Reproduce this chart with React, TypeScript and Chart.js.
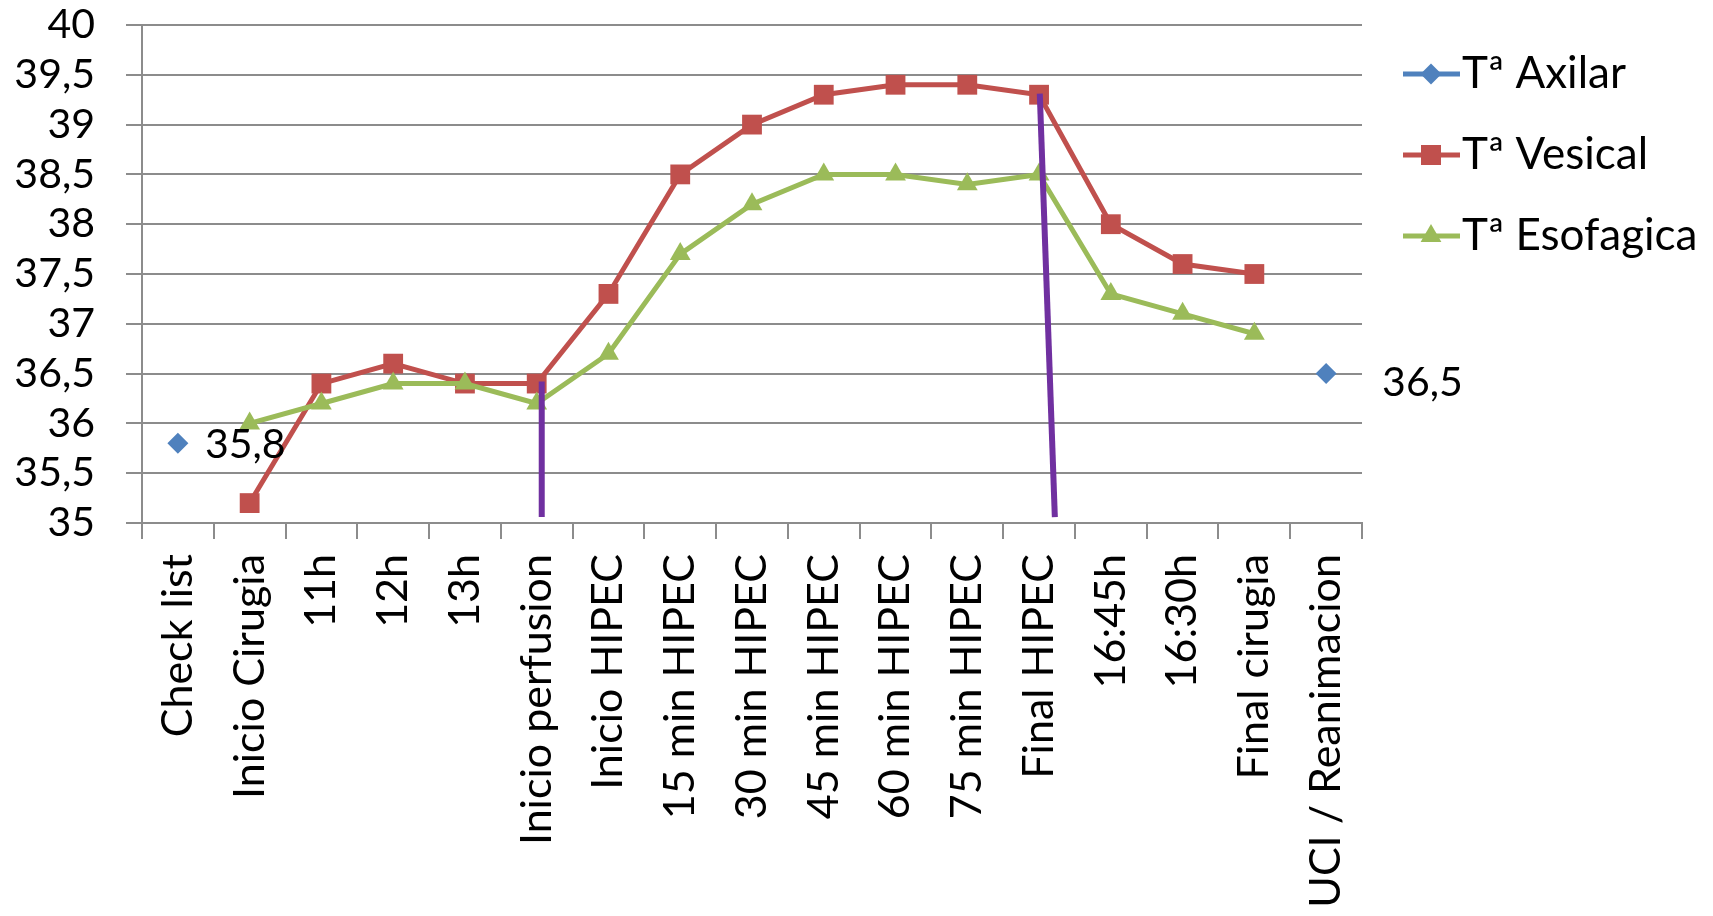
import React, { useEffect, useRef } from 'react';
import { Chart, registerables } from 'chart.js';

Chart.register(...registerables);

const categories = [
  'Check list', 'Inicio Cirugia', '11h', '12h', '13h', 'Inicio perfusion', 'Inicio HIPEC',
  '15 min HIPEC', '30 min HIPEC', '45 min HIPEC', '60 min HIPEC', '75 min HIPEC', 'Final HIPEC',
  '16:45h', '16:30h', 'Final cirugia', 'UCI / Reanimacion',
];

const axilar = [35.8, null, null, null, null, null, null, null, null, null, null, null, null, null, null, null, 36.5];
const vesical = [null, 35.2, 36.4, 36.6, 36.4, 36.4, 37.3, 38.5, 39.0, 39.3, 39.4, 39.4, 39.3, 38.0, 37.6, 37.5, null];
const esofagica = [null, 36.0, 36.2, 36.4, 36.4, 36.2, 36.7, 37.7, 38.2, 38.5, 38.5, 38.4, 38.5, 37.3, 37.1, 36.9, null];

// purple marker lines (x in category-index units)
const perfusionMarker = [{ x: 5.07, y: 36.42 }, { x: 5.07, y: 35.06 }];
const hipecEndMarker = [{ x: 12.01, y: 39.31 }, { x: 12.22, y: 35.06 }];

const seriesNames = ['Tª Axilar', 'Tª Vesical', 'Tª Esofagica'];
const yMin = 35;
const yMax = 40;
const yStep = 0.5;

const BLUE = '#4F81BD';
const RED = '#C0504D';
const GREEN = '#9BBB59';
const PURPLE = '#7030A0';
const GRID = '#8C8C8C';
const FONT = 'Lato';
const FS = 41;
const FS_X = 43;
const FS_LEG = 44;

const fmt = (v: number) => String(v).replace('.', ',');

// legend geometry
const LEG_PAD = 49 - FS_LEG / 2;
const LEG_LINE_H = (81 - LEG_PAD) / FS_LEG;
const BOX_W = 51;

function makeIcon(color: string, style: string): HTMLCanvasElement {
  const centerX = 1362 + LEG_PAD + BOX_W / 2;
  const half = 1460 - centerX;
  const W = Math.ceil(half * 2);
  const left = centerX - W / 2;
  const c = document.createElement('canvas');
  c.width = W;
  c.height = 30;
  const g = c.getContext('2d')!;
  g.strokeStyle = color;
  g.fillStyle = color;
  g.lineWidth = 5;
  g.beginPath();
  g.moveTo(1403 - left, 15);
  g.lineTo(W, 15);
  g.stroke();
  const cx = 1431 - left;
  const cy = 15;
  g.beginPath();
  if (style === 'rectRot') {
    g.moveTo(cx, cy - 10.5);
    g.lineTo(cx + 10.5, cy);
    g.lineTo(cx, cy + 10.5);
    g.lineTo(cx - 10.5, cy);
  } else if (style === 'rect') {
    g.rect(cx - 10, cy - 10, 20, 20);
  } else {
    const r = 12;
    g.moveTo(cx, cy - r);
    g.lineTo(cx + r * 0.866, cy + r * 0.5);
    g.lineTo(cx - r * 0.866, cy + r * 0.5);
  }
  g.closePath();
  g.fill();
  return c;
}

const axilarLabels = {
  id: 'axilarLabels',
  afterDatasetsDraw(chart: any, _args: any, opts: any) {
    const meta = chart.getDatasetMeta(0);
    const ctx = chart.ctx;
    ctx.save();
    ctx.font = `${FS}px ${FONT}`;
    ctx.fillStyle = '#000';
    ctx.textBaseline = 'middle';
    ctx.textAlign = 'left';
    meta.data.forEach((pt: any, i: number) => {
      const v = axilar[i];
      if (v == null) return;
      const off = (opts.offsets && opts.offsets[i]) || [20, 0];
      ctx.fillText(fmt(v), pt.x + off[0], pt.y + off[1]);
    });
    ctx.restore();
  },
};

export default function App() {
  const ref = useRef<HTMLCanvasElement>(null);

  useEffect(() => {
    document.body.style.margin = '0';
    document.body.style.overflow = 'hidden';
    Chart.defaults.font.family = FONT;

    const m = document.createElement('canvas').getContext('2d')!;
    m.font = `normal ${FS_LEG}px ${FONT}`;
    const tw = Math.max(...seriesNames.map((n) => m.measureText(n).width));
    const padRight = Math.max(0, 351 - (LEG_PAD + BOX_W + FS_LEG / 2 + tw + 10));

    const icons = [makeIcon(BLUE, 'rectRot'), makeIcon(RED, 'rect'), makeIcon(GREEN, 'triangle')];

    const chart = new Chart(ref.current!, {
      type: 'line',
      data: {
        labels: categories,
        datasets: [
          {
            label: seriesNames[0],
            data: axilar,
            borderColor: BLUE,
            backgroundColor: BLUE,
            showLine: false,
            pointStyle: 'rectRot',
            pointRadius: 10.5,
            pointBorderWidth: 0,
            order: 4,
          },
          {
            label: seriesNames[1],
            data: vesical,
            borderColor: RED,
            backgroundColor: RED,
            borderWidth: 5,
            pointStyle: 'rect',
            pointRadius: 14,
            pointBorderWidth: 0,
            tension: 0,
            order: 3,
          },
          {
            label: seriesNames[2],
            data: esofagica,
            borderColor: GREEN,
            backgroundColor: GREEN,
            borderWidth: 5,
            pointStyle: 'triangle',
            pointRadius: 12,
            pointBorderWidth: 0,
            tension: 0,
            order: 2,
          },
          {
            label: 'perfusion',
            data: perfusionMarker as any,
            xAxisID: 'xl',
            borderColor: PURPLE,
            borderWidth: 6,
            pointRadius: 0,
            order: 1,
          },
          {
            label: 'hipec',
            data: hipecEndMarker as any,
            xAxisID: 'xl',
            borderColor: PURPLE,
            borderWidth: 6,
            pointRadius: 0,
            order: 1,
          },
        ],
      },
      options: {
        animation: false,
        responsive: true,
        maintainAspectRatio: false,
        events: [],
        layout: { padding: { top: 25, right: padRight, bottom: 0, left: 0 } },
        scales: {
          x: {
            type: 'category',
            offset: true,
            afterFit: (s: any) => {
              s.height = 393;
            },
            grid: {
              offset: true,
              drawOnChartArea: false,
              drawTicks: true,
              tickLength: 16,
              color: GRID,
              lineWidth: 2,
            },
            border: { display: true, color: GRID, width: 2 },
            ticks: {
              autoSkip: false,
              minRotation: 90,
              maxRotation: 90,
              padding: 15,
              color: '#000',
              font: { family: FONT, size: FS_X },
            },
          },
          xl: {
            type: 'linear',
            axis: 'x',
            position: 'bottom',
            display: false,
            min: -0.5,
            max: categories.length - 0.5,
          },
          y: {
            min: yMin,
            max: yMax,
            afterFit: (s: any) => {
              s.width = 142;
              s.paddingTop = 0;
              s.paddingBottom = 0;
            },
            grid: {
              drawTicks: true,
              tickLength: 16,
              color: GRID,
              lineWidth: 2,
            },
            border: { display: true, color: GRID, width: 2 },
            ticks: {
              stepSize: yStep,
              autoSkip: false,
              padding: 31,
              color: '#000',
              font: { family: FONT, size: FS },
              callback: (v: any) => fmt(Number(v)),
            },
          },
        },
        plugins: {
          tooltip: { enabled: false },
          legend: {
            position: 'right',
            align: 'start',
            labels: {
              usePointStyle: true,
              pointStyleWidth: BOX_W,
              padding: LEG_PAD,
              color: '#000',
              font: { family: FONT, size: FS_LEG, lineHeight: LEG_LINE_H },
              generateLabels: () =>
                seriesNames.map((n, i) => ({
                  text: [n] as any,
                  pointStyle: icons[i] as any,
                  fontColor: '#000',
                  hidden: false,
                  datasetIndex: i,
                  lineWidth: 0,
                  strokeStyle: 'rgba(0,0,0,0)',
                  fillStyle: 'rgba(0,0,0,0)',
                })),
            },
          },
          axilarLabels: { offsets: { 0: [27, 1], 16: [56, 9] } },
        } as any,
      },
      plugins: [axilarLabels],
    });

    return () => chart.destroy();
  }, []);

  return (
    <div style={{ width: 1713, height: 916, position: 'relative' }}>
      <canvas ref={ref} />
    </div>
  );
}
